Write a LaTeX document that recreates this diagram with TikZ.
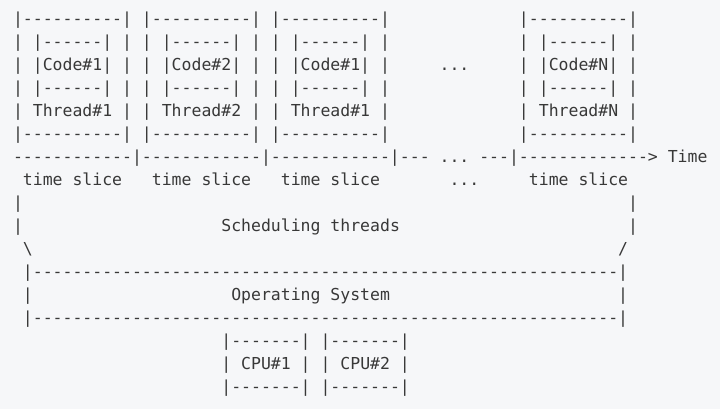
\documentclass[tikz,border=0pt]{standalone}
\usepackage{fontspec}
\setmonofont{DejaVu Sans Mono}
\usetikzlibrary{positioning}
\definecolor{codebg}{RGB}{246,247,249}
\definecolor{codetxt}{RGB}{56,56,56}

\begin{document}
\begin{tikzpicture}[
    x=7.441pt, y=-17.25pt,
    ascii/.style={font=\fontsize{12.36pt}{17.25pt}\selectfont\ttfamily\frenchspacing, text=codetxt, inner sep=0pt, outer sep=0pt, anchor=base west}
]

% Background
\fill[codebg] (-9.75pt,18.2pt) rectangle (530.25pt,-288.55pt);
\useasboundingbox (-9.75pt,18.2pt) rectangle (530.25pt,-288.55pt);

% Thread boxes
\foreach \col/\code/\thr [count=\i] in {0/1/1, 13/2/2, 26/1/1, 51/N/N} {
    \node[ascii] (top\i) at (\col,0) {|----------|};
    \node[ascii] (ctop\i) at (\col,1) {| |------| |};
    \node[ascii] (code\i) at (\col,2) {| |Code\#\code| |};
    \node[ascii] (cbot\i) at (\col,3) {| |------| |};
    \node[ascii] (thread\i) at (\col,4) {| Thread\#{\thr} |};
    \node[ascii] (bot\i) at (\col,5) {|----------|};
}
\node[ascii] (dots) at (43,2) {...};

% Time line
\node[ascii] (timeline) at (0,6) {------------|------------|------------|--- ... ---|-------------> Time};
\foreach \col [count=\i] in {1,14,27,52}
    \node[ascii] (slice\i) at (\col,7) {time slice};
\node[ascii] (slicedots) at (44,7) {...};

% Scheduling threads
\node[ascii] (schedl1) at (0,8) {|};
\node[ascii] (schedr1) at (62,8) {|};
\node[ascii] (schedl2) at (0,9) {|};
\node[ascii] (sched) at (21,9) {Scheduling threads};
\node[ascii] (schedr2) at (62,9) {|};
\node[ascii] (slashl) at (1,10) {\textbackslash};
\node[ascii] (slashr) at (61,10) {/};

% Operating System
\node[ascii] (ostop) at (1,11) {|-----------------------------------------------------------|};
\node[ascii] (osl) at (1,12) {|};
\node[ascii] (os) at (22,12) {Operating System};
\node[ascii] (osr) at (61,12) {|};
\node[ascii] (osbot) at (1,13) {|-----------------------------------------------------------|};

% CPUs
\foreach \col/\cpuno [count=\i] in {21/1, 31/2} {
    \node[ascii] (cputop\i) at (\col,14) {|-------|};
    \node[ascii] (cpu\i) at (\col,15) {| CPU\#{\cpuno} |};
    \node[ascii] (cpubot\i) at (\col,16) {|-------|};
}

\end{tikzpicture}
\end{document}
